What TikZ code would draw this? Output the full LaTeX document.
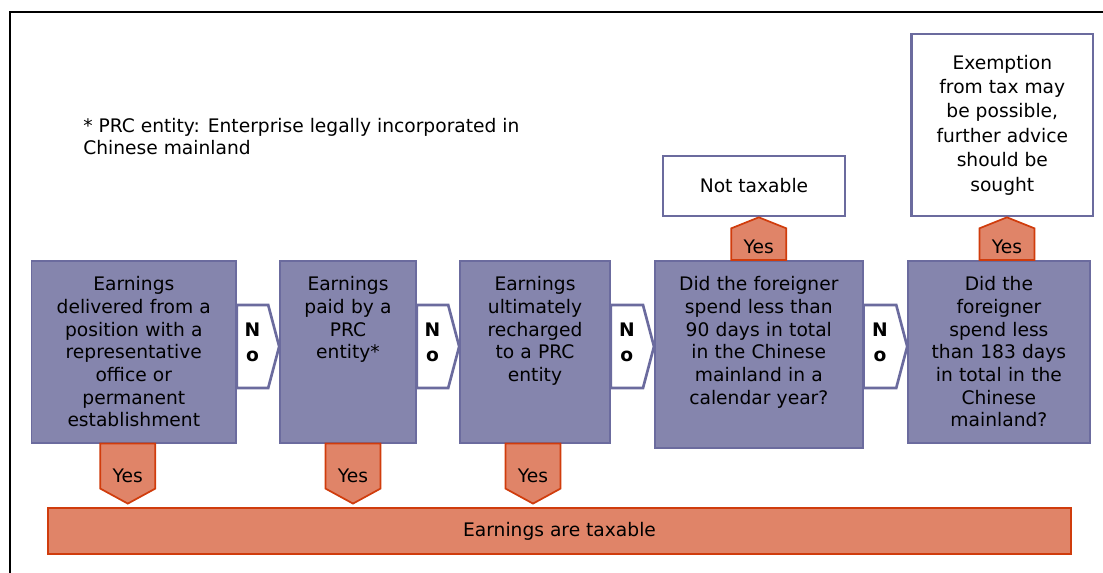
\documentclass[tikz,border=0pt]{standalone}
\usepackage{fontspec}
\setmainfont{DejaVu Sans}
\usepackage{xcolor}
\usetikzlibrary{calc}

\definecolor{boxfill}{RGB}{133,133,173}
\definecolor{boxline}{RGB}{107,107,158}
\definecolor{yesfill}{RGB}{224,132,104}
\definecolor{yesline}{RGB}{208,60,12}

\begin{document}
\begin{tikzpicture}[x=0.75pt, y=-0.75pt,
    every node/.style={font=\fontsize{14}{17}\selectfont, align=center, inner sep=0pt},
    qbox/.style={draw=boxline, fill=boxfill, line width=1.2pt, anchor=north, text height=22.5pt, text depth=#1},
    qbox/.default=114pt,
    endbox/.style={draw=boxline, fill=white, line width=2pt},
    nochev/.style={draw=boxline, fill=white, line width=2pt, line join=miter},
    yesarrow/.style={draw=yesline, fill=yesfill, line width=1.3pt, line join=miter}]
    \useasboundingbox (0,0) rectangle (1103,573);

    % frame
    \draw[line width=1.5pt] (9.5,573) -- (9.5,12) -- (1103,12);

    % footnote
    \node (note) [anchor=north west, align=left, font=\fontsize{14}{16.3}\selectfont] at (83,118)
        {* PRC entity: Enterprise legally incorporated in\\Chinese mainland};

    % questions
    \node (e1) [qbox, text width=153.3pt] at (133.8,260) {Earnings\\delivered from a\\position with a\\representative\\office or\\permanent\\establishment};
    \node (e2) [qbox, text width=102pt] at (348,260) {Earnings\\paid by a\\PRC\\entity*};
    \node (e3) [qbox, text width=112.5pt] at (535,260) {Earnings\\ultimately\\recharged\\to a PRC\\entity};
    \node (q1) [qbox=117.75pt, text width=156pt] at (758.8,260) {Did the foreigner\\spend less than\\90 days in total\\in the Chinese\\mainland in a\\calendar year?};
    \node (q2) [qbox, text width=136.3pt] at (998.9,260) {Did the\\foreigner\\spend less\\than 183 days\\in total in the\\Chinese\\mainland?};

    % outcomes
    \node (nt) [endbox, minimum width=136.5pt, minimum height=45pt] at (754,186) {Not taxable};
    \node (ex) [endbox, minimum width=136pt, minimum height=136.5pt, font=\fontsize{14}{18.3}\selectfont] at (1002.3,125)
        {Exemption\\from tax may\\be possible,\\further advice\\should be\\sought};
    \node (tax) [draw=yesline, fill=yesfill, line width=1.3pt, minimum width=767.25pt, minimum height=34.5pt] at (559.5,531) {Earnings are taxable};

    % No
    \foreach \a/\b in {e1/e2, e2/e3, e3/q1, q1/q2} {
        \draw[nochev] ($(\a.north east)+(0,45)$) -- ($(\b.north west)+(-11,45)$) -- ($(\b.north west)+(0,86.5)$)
            -- ($(\b.north west)+(-11,128)$) -- ($(\a.north east)+(0,128)$) -- cycle;
        \node (no\a) [font=\fontsize{14}{19}\selectfont\bfseries] at ($(\a.north east)!0.5!(\b.north west)+(-5.5,82.5)$) {N\\o};
    }

    % Yes, down
    \foreach \b/\dx in {e1/-6, e2/5, e3/-2} {
        \draw[yesarrow] ($(\b.south)+(\dx-27.5,0)$) -- ++(0,45) -- ++(27.5,15) -- ++(27.5,-15) -- ++(0,-45) -- cycle;
        \node (yes\b) at ($(\b.south)+(\dx,32)$) {Yes};
    }

    % Yes, up
    \foreach \a/\b/\dx in {q1/nt/0, q2/ex/8} {
        \draw[yesarrow] ($(\a.north)+(\dx-27.5,0)$) -- ($(\a.north |- \b.south)+(\dx-27.5,11)$) -- ($(\a.north |- \b.south)+(\dx,0)$)
            -- ($(\a.north |- \b.south)+(\dx+27.5,11)$) -- ($(\a.north)+(\dx+27.5,0)$) -- cycle;
        \node (yes\a) at ($(\a.north)+(\dx,-13)$) {Yes};
    }
\end{tikzpicture}
\end{document}
